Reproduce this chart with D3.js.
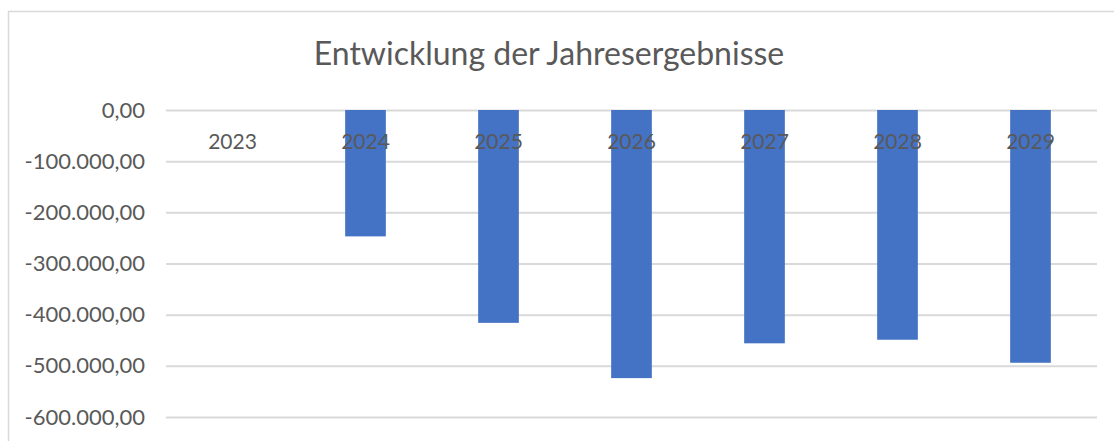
<!DOCTYPE html>
<html lang="de">
<head>
    <meta charset="UTF-8">
    <title>Entwicklung der Jahresergebnisse</title>
    <script src="https://d3js.org/d3.v7.min.js"></script>
    <style>
        body { margin: 0; background: #fff; }
        text { font-family: Lato, "Open Sans", sans-serif; fill: #595959; }
    </style>
</head>
<body>
    <div id="chart"></div>
    <script>
        // Data
        const years = ["2023", "2024", "2025", "2026", "2027", "2028", "2029"];
        const results = [0, -247000, -416000, -524000, -456000, -449000, -494000];
        const yTicks = [0, -100000, -200000, -300000, -400000, -500000, -600000];

        const width = 1114;
        const height = 441;
        const margin = { top: 110, right: 17, left: 166 };
        const plotBottom = 417;

        const svg = d3.select("#chart")
            .append("svg")
            .attr("width", width)
            .attr("height", height);

        // chart frame (cut off on right and bottom)
        svg.append("path")
            .attr("d", "M8.5," + height + " V11.5 H" + width)
            .attr("fill", "none")
            .attr("stroke", "#d9d9d9")
            .attr("stroke-width", 1.5);

        svg.append("text")
            .attr("x", 549)
            .attr("y", 65)
            .attr("text-anchor", "middle")
            .style("font-size", "32px")
            .text("Entwicklung der Jahresergebnisse");

        const x = d3.scaleBand()
            .domain(years)
            .range([margin.left, width - margin.right])
            .paddingInner(0.694)
            .paddingOuter(0.347);

        const y = d3.scaleLinear()
            .domain([0, -600000])
            .range([margin.top, plotBottom]);

        // German number format, plain hyphen as minus
        const fmt = d3.formatLocale({ decimal: ",", thousands: ".", grouping: [3], currency: ["", " €"], minus: "-" }).format(",.2f");

        // gridlines + labels
        const yAxis = svg.append("g")
            .attr("transform", "translate(" + margin.left + ",0)")
            .call(d3.axisLeft(y)
                .tickValues(yTicks)
                .tickSize(-(width - margin.right - margin.left))
                .tickPadding(21)
                .tickFormat(fmt));
        yAxis.select(".domain").remove();
        yAxis.selectAll(".tick line").attr("stroke", "#d9d9d9").attr("stroke-width", 2);
        yAxis.selectAll(".tick text")
            .attr("fill", "#595959")
            .style("font-size", "22px")
            .style("font-family", "Lato, sans-serif");

        // bars
        const step = x.step();
        const barW = step / (1 + 2.27);
        svg.selectAll(".bar")
            .data(years.map((d, i) => ({ year: d, value: results[i] })))
            .enter()
            .append("rect")
            .attr("class", "bar")
            .attr("x", d => x(d.year) + x.bandwidth() / 2 - barW / 2)
            .attr("y", d => y(0))
            .attr("width", barW)
            .attr("height", d => y(d.value) - y(0))
            .attr("fill", "#4472c4");

        // category labels (drawn at the top, over the bars)
        svg.selectAll(".cat")
            .data(years)
            .enter()
            .append("text")
            .attr("class", "cat")
            .attr("x", d => x(d) + x.bandwidth() / 2)
            .attr("y", 149)
            .attr("text-anchor", "middle")
            .style("font-size", "21px")
            .text(d => d);
    </script>
</body>
</html>
